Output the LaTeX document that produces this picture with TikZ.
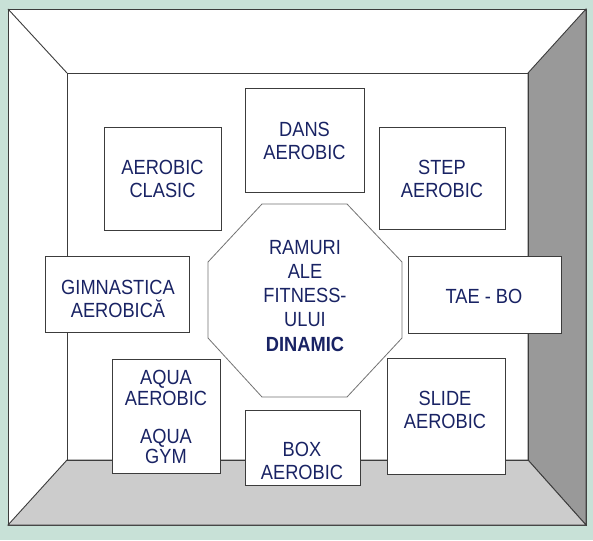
\documentclass[tikz,border=0pt]{standalone}
\usepackage{fontspec}
\newfontfamily\lblfont[FakeStretch=0.89]{Liberation Sans}
\definecolor{bggreen}{RGB}{200,225,215}
\definecolor{txtnavy}{RGB}{25,35,100}
\definecolor{edgegray}{RGB}{60,60,60}
\definecolor{wallgray}{RGB}{153,153,153}
\definecolor{floorgray}{RGB}{204,204,204}
\tikzset{
  panel/.style={draw=edgegray, line width=1pt, fill=white, rectangle, inner sep=0pt},
  lbl/.style={text=txtnavy, align=center, inner sep=0pt, anchor=north,
    font=\lblfont\fontsize{20.5}{23.3}\selectfont},
  roomline/.style={draw=edgegray, line width=0.9pt},
}
\begin{document}
\begin{tikzpicture}[x=1pt,y=-1pt]
\useasboundingbox (0,0) rectangle (593,540);
\fill[bggreen] (0,0) rectangle (593,540);
% room
\filldraw[roomline, fill=white] (8,9) rectangle (586,525);
\filldraw[roomline, fill=wallgray] (528,73) -- (586,9) -- (586,525) -- (528,460) -- cycle;
\filldraw[roomline, fill=floorgray] (67,460) -- (528,460) -- (586,525) -- (8,525) -- cycle;
\draw[roomline] (8,9) -- (67,73);
\draw[roomline] (67,73) rectangle (528,460);
% octagon
\filldraw[draw=gray!90!black, line width=0.8pt, fill=white]
  (262,204) -- (347,204) -- (402,262) -- (402,338) -- (347,397) -- (262,397) -- (208,338) -- (208,262) -- cycle;
\node[lbl, font=\lblfont\fontsize{20.5}{24.2}\selectfont] (center) at (305,240)
  {RAMURI\\ALE\\FITNESS-\\ULUI\\\textbf{DINAMIC}};
% boxes
\node[panel, minimum width=117pt, minimum height=102pt] (clasicbox) at (162.5,179) {};
\node[panel, minimum width=119pt, minimum height=103pt] (dansbox) at (304.5,140.5) {};
\node[panel, minimum width=126pt, minimum height=101pt] (stepbox) at (442,178.5) {};
\node[panel, minimum width=144pt, minimum height=76pt] (gimnbox) at (117,294) {};
\node[panel, minimum width=153pt, minimum height=77pt] (taebobox) at (484.5,294.5) {};
\node[panel, minimum width=108pt, minimum height=114pt] (aquabox) at (166,416) {};
\node[panel, minimum width=115pt, minimum height=75pt] (boxbox) at (302.5,447.5) {};
\node[panel, minimum width=118pt, minimum height=116pt] (slidebox) at (446,416) {};
% labels
\node[lbl] (clasic) at (162.5,160) {AEROBIC\\CLASIC};
\node[lbl] (dans) at (304.5,122) {DANS\\AEROBIC};
\node[lbl] (step) at (442,160) {STEP\\AEROBIC};
\node[lbl] (gimn) at (118,280) {GIMNASTICA\\AEROBICĂ};
\node[lbl] (taebo) at (484,289) {TAE - BO};
\node[lbl, font=\lblfont\fontsize{20.5}{20.8}\selectfont] (aqua) at (166,370) {AQUA\\AEROBIC\\[17pt]AQUA\\GYM};
\node[lbl] (boxa) at (302,442) {BOX\\AEROBIC};
\node[lbl] (slide) at (445,391) {SLIDE\\AEROBIC};
\end{tikzpicture}
\end{document}
